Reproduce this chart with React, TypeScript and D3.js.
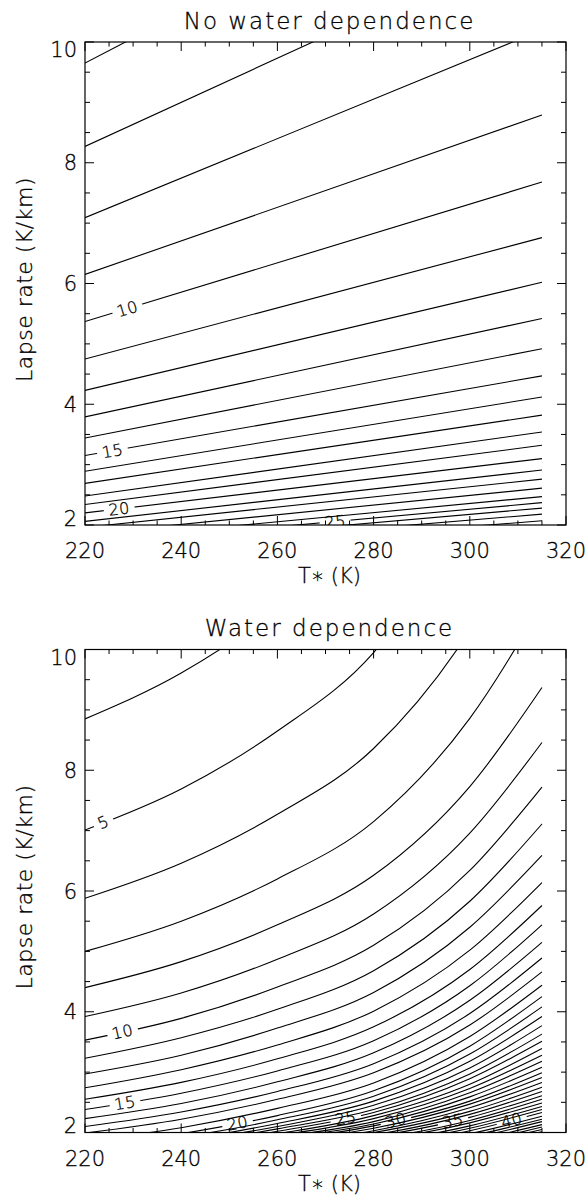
import React from 'react';
import * as d3 from 'd3';

// ---------- data ----------
const X_TICK_VALUES = [220, 240, 260, 280, 300, 320];
const Y_TICK_VALUES = [2, 4, 6, 8, 10];

// Panel 1: "No water dependence" – straight contour lines, lapse rate at T*=220 and T*=315
const NW_LEVELS = [6, 7, 8, 9, 10, 11, 12, 13, 14, 15, 16, 17, 18, 19, 20, 21, 22, 23, 24, 25, 26, 27, 28];
const NW_T = [220, 315];
const NW_GAMMA_220 = [9.65, 8.27, 7.09, 6.15, 5.37, 4.75, 4.23, 3.79, 3.44, 3.15, 2.89, 2.69, 2.48, 2.34, 2.2, 2.06, 1.96, 1.85, 1.75, 1.68, 1.62, 1.55, 1.47];
const NW_GAMMA_315 = [13.6, 11.74, 10.2, 8.79, 7.68, 6.76, 6.02, 5.42, 4.92, 4.47, 4.12, 3.82, 3.54, 3.32, 3.1, 2.91, 2.76, 2.61, 2.47, 2.37, 2.28, 2.18, 2.07];
const NW_LABEL_LEVELS = [10, 15, 20, 25];
const NW_LABEL_T = [228.8, 225.7, 227.1, 272];

// Panel 2: "Water dependence" – lapse rate of each contour at these T* columns
const W_T = [220, 240, 260, 280, 300, 315];
const W_LEVELS = [4, 5, 6, 7, 8, 9, 10, 11, 12, 13, 14, 15, 16, 17, 18, 19, 20, 21, 22, 23, 24, 25, 26, 27, 28, 29, 30, 31, 32, 33, 34, 35, 36, 37, 38, 39, 40, 41, 42, 43, 44, 45, 46, 47];
const W_GAMMA = [
  [8.85, 9.61, 10.68, 12.12, 14.71, 17.6],
  [7.01, 7.69, 8.65, 9.95, 12.28, 14.88],
  [5.88, 6.46, 7.27, 8.36, 10.32, 12.51],
  [5.0, 5.5, 6.2, 7.15, 8.86, 10.76],
  [4.4, 4.83, 5.44, 6.26, 7.73, 9.37],
  [3.92, 4.31, 4.87, 5.62, 6.96, 8.46],
  [3.53, 3.89, 4.41, 5.1, 6.34, 7.72],
  [3.23, 3.57, 4.04, 4.68, 5.83, 7.11],
  [2.97, 3.28, 3.73, 4.32, 5.4, 6.59],
  [2.74, 3.04, 3.45, 4.01, 5.02, 6.14],
  [2.55, 2.83, 3.22, 3.75, 4.7, 5.76],
  [2.38, 2.65, 3.02, 3.52, 4.43, 5.44],
  [2.23, 2.48, 2.84, 3.32, 4.19, 5.15],
  [2.1, 2.34, 2.68, 3.14, 3.97, 4.89],
  [1.99, 2.22, 2.55, 2.99, 3.78, 4.66],
  [1.86, 2.08, 2.4, 2.82, 3.59, 4.44],
  [1.76, 1.98, 2.28, 2.69, 3.43, 4.25],
  [1.71, 1.92, 2.21, 2.6, 3.3, 4.08],
  [1.68, 1.87, 2.15, 2.52, 3.18, 3.92],
  [1.66, 1.84, 2.1, 2.45, 3.07, 3.77],
  [1.64, 1.81, 2.06, 2.38, 2.97, 3.63],
  [1.62, 1.78, 2.02, 2.33, 2.89, 3.51],
  [1.61, 1.76, 1.98, 2.28, 2.8, 3.39],
  [1.6, 1.75, 1.95, 2.23, 2.73, 3.28],
  [1.59, 1.73, 1.92, 2.18, 2.66, 3.18],
  [1.58, 1.72, 1.9, 2.14, 2.59, 3.08],
  [1.58, 1.7, 1.87, 2.11, 2.52, 2.99],
  [1.57, 1.69, 1.85, 2.07, 2.47, 2.91],
  [1.56, 1.67, 1.83, 2.03, 2.41, 2.83],
  [1.55, 1.65, 1.8, 2.0, 2.35, 2.75],
  [1.54, 1.63, 1.77, 1.96, 2.3, 2.68],
  [1.52, 1.61, 1.75, 1.93, 2.25, 2.61],
  [1.5, 1.59, 1.72, 1.89, 2.2, 2.55],
  [1.48, 1.57, 1.69, 1.86, 2.16, 2.49],
  [1.46, 1.54, 1.66, 1.82, 2.11, 2.43],
  [1.44, 1.52, 1.64, 1.79, 2.07, 2.38],
  [1.42, 1.5, 1.61, 1.76, 2.03, 2.33],
  [1.4, 1.48, 1.58, 1.73, 1.98, 2.27],
  [1.37, 1.44, 1.55, 1.69, 1.94, 2.22],
  [1.34, 1.41, 1.52, 1.65, 1.9, 2.18],
  [1.31, 1.38, 1.48, 1.62, 1.86, 2.13],
  [1.28, 1.35, 1.45, 1.58, 1.82, 2.09],
  [1.25, 1.32, 1.42, 1.55, 1.79, 2.05],
  [1.22, 1.29, 1.39, 1.52, 1.75, 2.01],
];
const W_LABEL_LEVELS = [5, 10, 15, 20, 25, 30, 35, 40];
const W_LABEL_T = [223.8, 227.8, 228.3, 251.7, 274.2, 284.6, 296.5, 308.7];

// ---------- layout ----------
const WIDTH = 585;
const HEIGHT = 1201;
const LEFT = 85;
const RIGHT = 566;
const FONT = "'DejaVu Sans', 'Liberation Sans', sans-serif";
const FW = 200;
const TXT_STROKE = 0.3;

type PanelProps = {
  id: string;
  top: number;
  bottom: number;
  title: string;
  Ts: number[];
  levels: number[];
  gammas: number[][];
  labelLevels: number[];
  labelTs: number[];
  curved: boolean;
};

function Panel({ id, top, bottom, title, Ts, levels, gammas, labelLevels, labelTs, curved }: PanelProps) {
  const x = d3.scaleLinear().domain([220, 320]).range([LEFT, RIGHT]);
  const y = d3.scaleLinear().domain([2, 10]).range([bottom, top]);
  const line = d3
    .line<[number, number]>()
    .x((d) => x(d[0]))
    .y((d) => y(d[1]))
    .curve(curved ? d3.curveMonotoneX : d3.curveLinear);

  const xMinor = d3.range(220, 321, 5);
  const yMinor = d3.range(2, 10.001, 0.5);
  const labelFont = 16;

  const labels = labelLevels.map((lv, k) => {
    const idx = levels.indexOf(lv);
    const g = d3.scaleLinear().domain(Ts).range(gammas[idx]);
    const t = labelTs[k];
    const px = x(t);
    const py = y(g(t));
    const a = (Math.atan2(y(g(t + 2)) - y(g(t - 2)), x(t + 2) - x(t - 2)) * 180) / Math.PI;
    const text = String(lv);
    const w = text.length * 10.5 + 10;
    return { lv, px, py, a, text, w };
  });

  const midX = (LEFT + RIGHT) / 2;
  const txt = { fontFamily: FONT, fontWeight: FW, fill: '#000', stroke: '#000', strokeWidth: TXT_STROKE } as const;

  return (
    <g>
      <defs>
        <clipPath id={`clip-${id}`}>
          <rect x={LEFT} y={top} width={RIGHT - LEFT} height={bottom - top} />
        </clipPath>
        {labels.map((l) => (
          <mask id={`mask-${id}-${l.lv}`} key={l.lv} maskUnits="userSpaceOnUse" x={0} y={0} width={WIDTH} height={HEIGHT}>
            <rect x={0} y={0} width={WIDTH} height={HEIGHT} fill="white" />
            <rect
              x={l.px - l.w / 2}
              y={l.py - 8}
              width={l.w}
              height={16}
              fill="black"
              transform={`rotate(${l.a} ${l.px} ${l.py})`}
            />
          </mask>
        ))}
      </defs>

      <text x={midX + 4} y={top - 13.5} textAnchor="middle" fontSize={23} letterSpacing={2} {...txt}>
        {title}
      </text>

      <g clipPath={`url(#clip-${id})`}>
        {levels.map((lv, i) => {
          const pts: [number, number][] = Ts.map((t, j) => [t, gammas[i][j]]);
          const hasLabel = labelLevels.includes(lv);
          return (
            <path
              key={lv}
              d={line(pts) || ''}
              fill="none"
              stroke="#000"
              strokeWidth={1.1}
              mask={hasLabel ? `url(#mask-${id}-${lv})` : undefined}
            />
          );
        })}
        {labels.map((l) => (
          <text
            key={l.lv}
            x={l.px}
            y={l.py + labelFont * 0.36}
            textAnchor="middle"
            fontSize={labelFont}
            letterSpacing={0.5}
            transform={`rotate(${l.a} ${l.px} ${l.py})`}
            {...txt}
          >
            {l.text}
          </text>
        ))}
      </g>

      {/* frame */}
      <rect x={LEFT} y={top} width={RIGHT - LEFT} height={bottom - top} fill="none" stroke="#000" strokeWidth={1.2} />

      {/* x ticks */}
      {xMinor.map((t) => {
        const major = (t - 220) % 20 === 0;
        const len = major ? 9 : 4.5;
        const xx = x(t);
        return (
          <g key={`xt${t}`} stroke="#000" strokeWidth={1}>
            <line x1={xx} x2={xx} y1={bottom} y2={bottom - len} />
            <line x1={xx} x2={xx} y1={top} y2={top + len} />
          </g>
        );
      })}
      {/* y ticks */}
      {yMinor.map((v) => {
        const major = Math.abs(v % 2) < 1e-9;
        const len = major ? 9 : 5;
        const yy = y(v);
        return (
          <g key={`yt${v}`} stroke="#000" strokeWidth={1}>
            <line x1={LEFT} x2={LEFT + len} y1={yy} y2={yy} />
            <line x1={RIGHT} x2={RIGHT - len} y1={yy} y2={yy} />
          </g>
        );
      })}

      {X_TICK_VALUES.map((t) => (
        <text key={`xl${t}`} x={x(t)} y={bottom + 33} textAnchor="middle" fontSize={21} {...txt}>
          {t}
        </text>
      ))}
      {Y_TICK_VALUES.map((v) => {
        const c = Math.min(Math.max(y(v), top + 7.5), bottom - 7);
        return (
          <text key={`yl${v}`} x={77} y={c + 7.6} textAnchor="end" fontSize={21} {...txt}>
            {v}
          </text>
        );
      })}

      <text x={midX + 4} y={bottom + 58} textAnchor="middle" fontSize={21} {...txt}>
        T∗ (K)
      </text>
      <text
        x={32}
        y={(top + bottom) / 2 - 4}
        textAnchor="middle"
        fontSize={22}
        letterSpacing={0.5}
        transform={`rotate(-90 32 ${(top + bottom) / 2 - 4})`}
        {...txt}
      >
        Lapse rate (K/km)
      </text>
    </g>
  );
}

export default function App() {
  const nwGammas = NW_LEVELS.map((_, i) => [NW_GAMMA_220[i], NW_GAMMA_315[i]]);
  return (
    <svg
      width={WIDTH}
      height={HEIGHT}
      viewBox={`0 0 ${WIDTH} ${HEIGHT}`}
      style={{ position: 'absolute', left: 0, top: 0, background: '#fff' }}
    >
      <rect x={0} y={0} width={WIDTH} height={HEIGHT} fill="#fff" />
      <Panel
        id="p1"
        top={42}
        bottom={525}
        title="No water dependence"
        Ts={NW_T}
        levels={NW_LEVELS}
        gammas={nwGammas}
        labelLevels={NW_LABEL_LEVELS}
        labelTs={NW_LABEL_T}
        curved={false}
      />
      <Panel
        id="p2"
        top={649.5}
        bottom={1132.5}
        title="Water dependence"
        Ts={W_T}
        levels={W_LEVELS}
        gammas={W_GAMMA}
        labelLevels={W_LABEL_LEVELS}
        labelTs={W_LABEL_T}
        curved={true}
      />
    </svg>
  );
}
